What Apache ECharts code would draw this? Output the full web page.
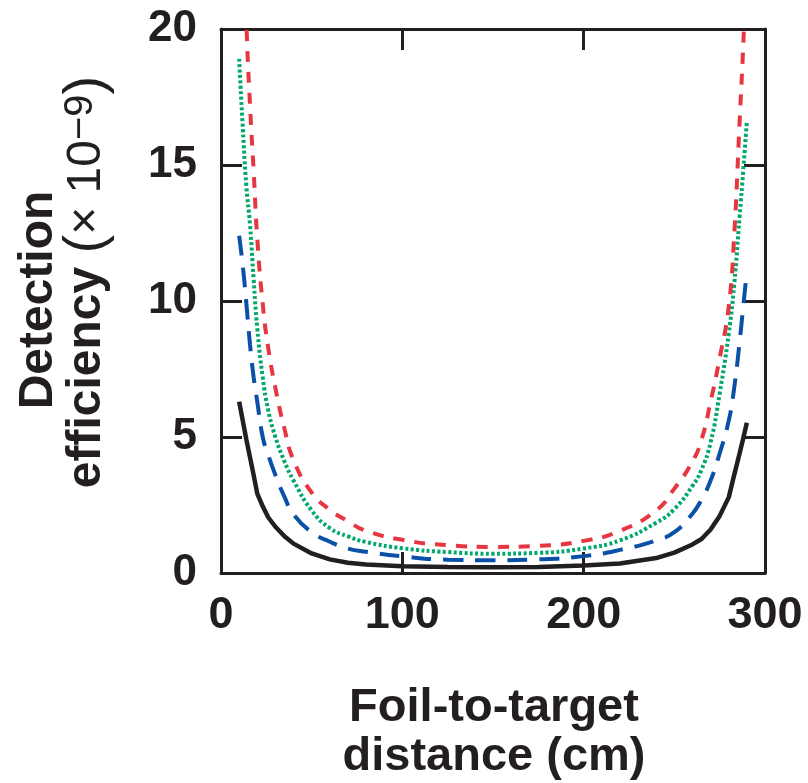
<!DOCTYPE html>
<html>
<head>
<meta charset="utf-8">
<script src="https://cdn.jsdelivr.net/npm/echarts@6/dist/echarts.min.js"></script>
<style>
html,body{margin:0;padding:0;background:#fff;}
#chart{width:808px;height:783px;}
</style>
</head>
<body>
<div id="chart"></div>
<script>
// Foil-to-target distance (cm)
const distances = [10,12,14,16,18,20,23,26,30,35,40,50,60,70,80,100,125,150,175,200,220,240,250,260,265,270,275,280,283,286,288,290];
// Detection efficiency (x 10^-9)
const seriesBlackSolid = [6.3,5.6,4.9,4.25,3.6,2.92,2.45,2.05,1.7,1.35,1.08,0.72,0.5,0.38,0.31,0.25,0.22,0.21,0.22,0.28,0.35,0.55,0.75,1.05,1.25,1.6,2.1,2.78,3.6,4.4,4.95,5.52];
const seriesBlueDashed = [12.4,11.3,9.9,8.4,7.2,6.3,5.0,4.35,3.6,2.8,2.15,1.5,1.15,0.9,0.78,0.61,0.49,0.47,0.5,0.62,0.85,1.2,1.5,2.18,2.7,3.4,4.4,5.6,6.8,8.5,9.8,11.1];
const seriesGreenDotted = [18.9,16.4,14.2,12.8,10.8,9.0,7.2,6.0,5.0,4.1,3.4,2.3,1.65,1.35,1.14,0.91,0.77,0.71,0.74,0.9,1.2,1.85,2.35,3.2,3.8,4.8,6.6,8.8,10.6,13.1,14.8,16.6];
const seriesRedDashed = [30,24.5,20.2,17.2,14.8,12.3,9.9,8.3,6.8,5.3,4.15,2.96,2.33,1.9,1.55,1.22,1.02,0.96,1.0,1.18,1.55,2.3,3.1,4.1,4.9,6.3,7.9,9.8,12.4,16.6,19.4,23];
const xTicks = [0,100,200,300];
const yTicks = [0,5,10,15,20];

const pair = ys => distances.map((x,i)=>[x, ys[i]]);
const ink = '#231f20';
const FONT = '"Liberation Sans", Arial, Helvetica, sans-serif';

const chart = echarts.init(document.getElementById('chart'), null, {renderer:'canvas'});

const axisCommon = {
  type:'value',
  axisLine:{show:true, onZero:false, lineStyle:{color:ink, width:3}},
  axisTick:{show:true, inside:true, length:21, lineStyle:{color:ink, width:3}},
  splitLine:{show:false}
};

chart.setOption({
  animation:false,
  backgroundColor:'#fff',
  grid:{left:221, top:29, width:544, height:544},
  xAxis:[
    Object.assign({}, axisCommon, {position:'bottom', min:xTicks[0], max:xTicks[xTicks.length-1], interval:100,
      axisLabel:{show:true, margin:20, color:ink, fontSize:45, fontWeight:'bold', fontFamily:FONT, showMinLabel:true, showMaxLabel:true}}),
    Object.assign({}, axisCommon, {position:'top', min:xTicks[0], max:xTicks[xTicks.length-1], interval:100, axisLabel:{show:false}})
  ],
  yAxis:[
    Object.assign({}, axisCommon, {position:'left', min:yTicks[0], max:yTicks[yTicks.length-1], interval:5,
      axisLabel:{show:true, margin:24, color:ink, fontSize:44, fontWeight:'bold', fontFamily:FONT}}),
    Object.assign({}, axisCommon, {position:'right', min:yTicks[0], max:yTicks[yTicks.length-1], interval:5, axisLabel:{show:false}})
  ],
  series:[
    {type:'line', data:pair(seriesBlackSolid), showSymbol:false, smooth:false, clip:true,
      lineStyle:{color:ink, width:4.5, type:'solid'}},
    {type:'line', data:pair(seriesBlueDashed), showSymbol:false, smooth:true, clip:true,
      lineStyle:{color:'#0a50a8', width:4, type:[20,12]}},
    {type:'line', data:pair(seriesGreenDotted), showSymbol:false, smooth:true, clip:true,
      lineStyle:{color:'#00a86b', width:4, type:[3,2.4]}},
    {type:'line', data:pair(seriesRedDashed), showSymbol:false, smooth:true, clip:true,
      lineStyle:{color:'#e63740', width:4, type:[11,10]}}
  ],
  graphic:[
    {type:'text', x:39, y:300, rotation:Math.PI/2,
      style:{text:'Detection', fill:ink, font:'bold 48px ' + FONT, textAlign:'center', textVerticalAlign:'middle'}},
    {type:'text', x:87, y:282, rotation:Math.PI/2,
      style:{text:'{b|efficiency }{p|(}{n|× 10}{s|−9}{p|)}', fill:ink, textAlign:'center', textVerticalAlign:'middle',
        rich:{
          b:{font:'bold 48px ' + FONT, fill:ink},
          n:{font:'normal 48px ' + FONT, fill:ink},
          p:{font:'normal 56px ' + FONT, fill:ink},
          s:{font:'normal 40px ' + FONT, fill:ink, padding:[0,0,13,0]}
        }}},
    {type:'text', x:494, y:708,
      style:{text:'Foil-to-target', fill:ink, font:'bold 47px ' + FONT, textAlign:'center', textVerticalAlign:'middle'}},
    {type:'text', x:494, y:757,
      style:{text:'distance (cm)', fill:ink, font:'bold 47px ' + FONT, textAlign:'center', textVerticalAlign:'middle'}}
  ]
});
</script>
</body>
</html>
